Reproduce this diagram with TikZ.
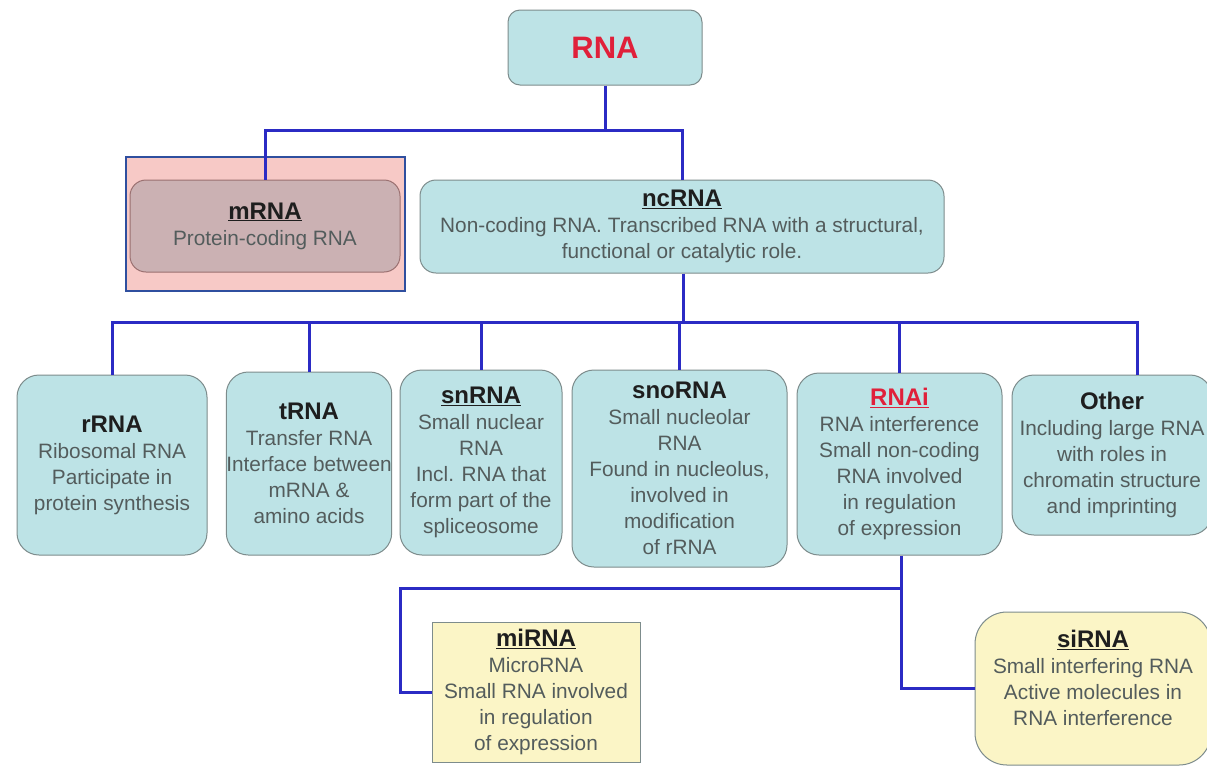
\documentclass[tikz,border=0pt]{standalone}
\usepackage{fontspec}
\setmainfont{Liberation Sans}
\definecolor{cyanfill}{HTML}{BDE3E6}
\definecolor{boxline}{HTML}{7D8C8C}
\definecolor{pinkfill}{HTML}{F7C9C6}
\definecolor{mfill}{HTML}{CBB1B3}
\definecolor{mline}{HTML}{9A7070}
\definecolor{yelfill}{HTML}{FBF5C6}
\definecolor{conncol}{HTML}{2B2BC4}
\definecolor{framecol}{HTML}{2F4F9F}
\definecolor{bodytxt}{HTML}{535C5C}
\definecolor{titletxt}{HTML}{1E1E1E}
\definecolor{redtxt}{HTML}{E0203A}
\newcommand{\ttl}[1]{{\fontsize{24}{26}\selectfont\bfseries\color{titletxt}#1}}
\newcommand{\uttl}[1]{{\fontsize{24}{26}\selectfont\bfseries\color{titletxt}\underline{#1}}}
\begin{document}
\begin{tikzpicture}[x=1pt,y=-1pt,
  box/.style={draw=boxline, line width=1pt, fill=cyanfill, rounded corners=22pt,
    align=center, inner sep=0pt, text=bodytxt, font=\fontsize{20.8}{26}\selectfont},
  conn/.style={draw=conncol, line width=3pt}]
\useasboundingbox (0,0) rectangle (1207,769);
\fill[white] (0,0) rectangle (1207,769);
% pink frame behind mRNA
\draw[fill=pinkfill, draw=framecol, line width=1.6pt] (126,157) rectangle (405,291);

\node[box, rounded corners=12pt, minimum width=194pt, minimum height=75pt] (rna) at (605,47.5)
  {{\fontsize{31}{33}\selectfont\bfseries\color{redtxt}RNA}};
\node[box, fill=mfill, draw=mline, rounded corners=16pt, minimum width=270pt, minimum height=92pt] (mrna) at (265,226)
  {\uttl{mRNA}\\ Protein-coding RNA};
\node[box, rounded corners=16pt, minimum width=524pt, minimum height=93pt] (ncrna) at (682,226.5)
  {\uttl{ncRNA}\\ Non-coding RNA. Transcribed RNA with a structural,\\ functional or catalytic role.};
\node[box, minimum width=190pt, minimum height=180pt] (rrna) at (112,465)
  {\ttl{rRNA}\\ Ribosomal RNA\\ Participate in\\ protein synthesis};
\node[box, minimum width=162pt, minimum height=183pt] (trna) at (309,463.5)
  {\ttl{tRNA}\\ Transfer RNA\\ Interface between\\ mRNA \&\\ amino acids};
\node[box, minimum width=162pt, minimum height=185pt] (snrna) at (481,462.5)
  {\uttl{snRNA}\\ Small nuclear\\ RNA\\ Incl. RNA that\\ form part of the\\ spliceosome};
\node[box, minimum width=215pt, minimum height=197pt] (snorna) at (679.5,468.5)
  {\ttl{snoRNA}\\ Small nucleolar\\ RNA\\ Found in nucleolus,\\ involved in\\ modification\\ of rRNA};
\node[box, minimum width=205pt, minimum height=182pt] (rnai) at (899.5,464)
  {{\fontsize{24}{26}\selectfont\bfseries\color{redtxt}\underline{RNAi}}\\ RNA interference\\ Small non-coding\\ RNA involved\\ in regulation\\ of expression};
\node[box, minimum width=200pt, minimum height=160pt] (other) at (1112,455)
  {\ttl{Other}\\ Including large RNA\\ with roles in\\ chromatin structure\\ and imprinting};
\node[box, fill=yelfill, rounded corners=0pt, minimum width=208pt, minimum height=140pt] (mirna) at (536,692)
  {\uttl{miRNA}\\ MicroRNA\\ Small RNA involved\\ in regulation\\ of expression};
\node[box, fill=yelfill, rounded corners=32pt, minimum width=236pt, minimum height=153pt] (sirna) at (1093,688.5)
  {\parbox{232pt}{\centering\uttl{siRNA}\\ Small interfering RNA\\ Active molecules in\\ RNA interference\par\vspace*{22pt}}};

% junctions
\coordinate (j1) at (605,130);
\coordinate (j2) at (683,322);
\coordinate (j3) at (901,588);

\draw[conn] (rna.south) -- (j1);
\draw[conn] (j1) -| (mrna.north);
\draw[conn] (j1) -| (ncrna.north);
\draw[conn] (ncrna.south -| j2) -- (j2);
\draw[conn] (j2) -| (rrna.north);
\draw[conn] (j2) -| (trna.north);
\draw[conn] (j2) -| (snrna.north);
\draw[conn] (j2) -| (snorna.north);
\draw[conn] (j2) -| (rnai.north);
\draw[conn] (j2) -| ([xshift=25pt]other.north);
\draw[conn] (rnai.south -| j3) -- (j3);
\draw[conn] (j3) -- (400,588) |- (mirna.west);
\draw[conn] (j3) |- (sirna.west);
\end{tikzpicture}
\end{document}
